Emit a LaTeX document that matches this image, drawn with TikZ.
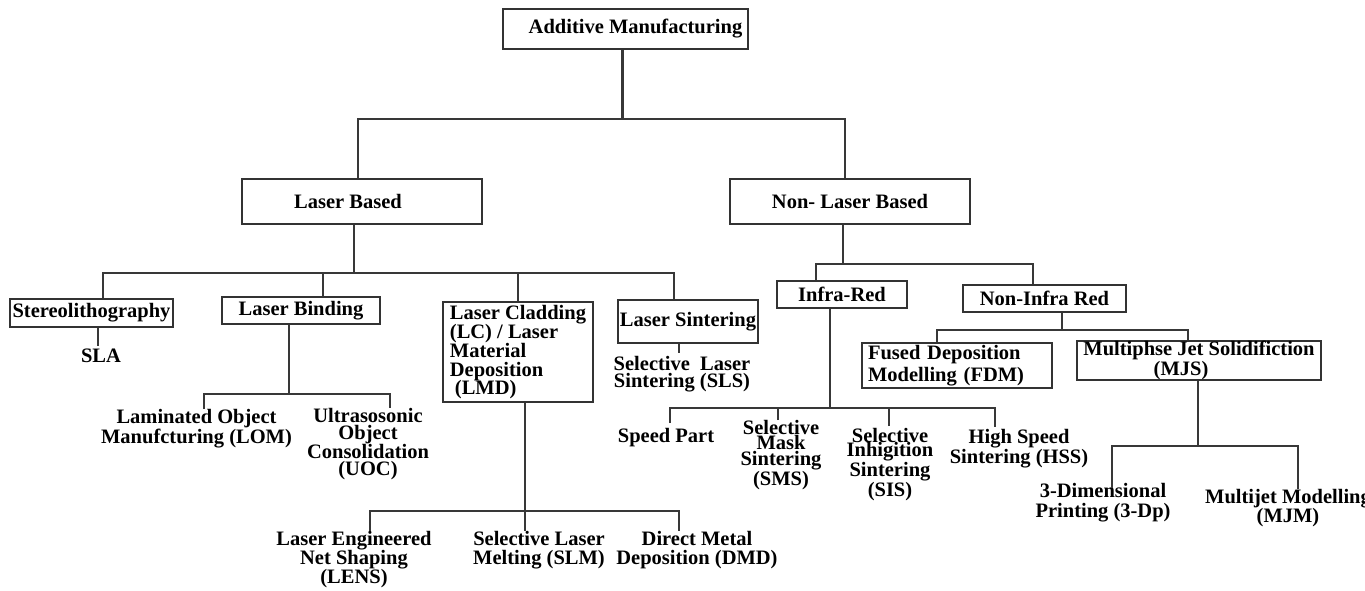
\documentclass[tikz,border=0pt]{standalone}
\usepackage{fontspec}
\setmainfont{Liberation Serif}
\begin{document}
\begin{tikzpicture}[x=1pt,y=-1pt,
  txt/.style={font=\bfseries\fontsize{20.5}{19}\selectfont, text=black},
  box/.style={txt, draw=black!80, line width=2.2pt, inner sep=0pt},
  leaf/.style={txt, inner sep=0pt, align=center, anchor=north},
  conn/.style={draw=black!78, line width=2.1pt}]
\useasboundingbox (0,0) rectangle (1365,590);

% ---- boxes ----
\node[box, minimum width=245pt, minimum height=40pt] (root) at (625.5,29) {\hspace*{20pt}Additive Manufacturing};
\node[box, minimum width=240pt, minimum height=45pt] (lb) at (362,201.5) {Laser Based\hspace*{28pt}};
\node[box, minimum width=240pt, minimum height=45pt] (nlb) at (850,201.5) {Non- Laser Based};

\node[box, minimum width=163pt, minimum height=28pt] (stereo) at (91.5,313) {Stereolithography};
\node[box, minimum width=158pt, minimum height=27pt] (lbind) at (301,310.5) {Laser Binding};
\node[box, minimum width=150pt, minimum height=100pt, align=left,
      font=\bfseries\fontsize{20.5}{18.7}\selectfont] (lc) at (518,352)
      {Laser Cladding\\(LC) / Laser\\Material\\Deposition\\\hspace*{5pt}(LMD)};
\node[box, minimum width=140pt, minimum height=43pt] (lsint) at (688,321.5) {Laser Sintering};

\node[box, minimum width=130pt, minimum height=27pt] (ir) at (842,294.5) {Infra-Red};
\node[box, minimum width=163pt, minimum height=27pt] (nir) at (1044.5,298.5) {Non-Infra Red};
\node[box, text width=178pt, inner xsep=6pt, minimum height=45pt, align=left,
      font=\bfseries\fontsize{20.5}{22}\selectfont] (fdm) at (957,365.5)
      {Fused Deposition\\Modelling (FDM)};
\node[box, minimum width=244pt, minimum height=35pt, align=center,
      font=\bfseries\fontsize{20.5}{13}\selectfont] (mjs) at (1199,360.5)
      {Multiphse Jet Solidifiction\\(MJS)\hspace*{36pt}};

% ---- leaves ----
\node[leaf] (sla) at (101,349) {SLA};
\node[leaf, font=\bfseries\fontsize{20.5}{20}\selectfont] (lom) at (196.5,409) {Laminated Object\\Manufcturing (LOM)};
\node[leaf, font=\bfseries\fontsize{20.5}{16.7}\selectfont] (uoc) at (368,408) {Ultrasosonic\\Object\\Consolidation\\(UOC)};
\node[leaf] (lens) at (354,531) {Laser Engineered\\Net Shaping\\(LENS)};
\node[leaf] (slm) at (539,531) {Selective Laser\\Melting (SLM)};
\node[leaf] (dmd) at (697,531) {Direct Metal\\Deposition (DMD)};
\node[leaf, font=\bfseries\fontsize{20.5}{17}\selectfont] (sls) at (682,356) {Selective\ \ Laser\\Sintering (SLS)};

\node[leaf] (speed) at (666,428) {Speed Part};
\node[leaf, font=\bfseries\fontsize{20.5}{15.5}\selectfont] (sms) at (781,420) {Selective\\Mask\\Sintering\\(SMS)};
\node[leaf, font=\bfseries\fontsize{20.5}{14.5}\selectfont] (sis) at (890,428) {Selective\\Inhigition\\Sintering\\(SIS)};
\node[leaf, font=\bfseries\fontsize{20.5}{20}\selectfont] (hss) at (1019,429) {High Speed\\Sintering (HSS)};
\node[leaf, font=\bfseries\fontsize{20.5}{20}\selectfont] (tdp) at (1103,483) {3-Dimensional\\Printing (3-Dp)};
\node[leaf] (mjm) at (1288,489) {Multijet Modelling\\(MJM)};

% ---- connectors ----
\draw[conn] ([xshift=-3pt]root.south) -- ++(0,68.5) coordinate (j1);
\draw[conn] ([xshift=-4pt]lb.north) |- (j1) -| ([xshift=-5pt]nlb.north);

\draw[conn] ([xshift=-8pt]lb.south) -- ++(0,48) coordinate (j2);
\draw[conn] ([xshift=11.5pt]stereo.north) |- (j2) -| ([xshift=-14pt]lsint.north);
\draw[conn] ([xshift=22pt]lbind.north) -- ([xshift=22pt]lbind.north |- j2);
\draw[conn] (lc.north) -- (lc.north |- j2);

\draw[conn] ([xshift=6.5pt]stereo.south) -- ([xshift=6.5pt,yshift=3pt]stereo.south |- sla.north);

\draw[conn] ([xshift=-12pt]lbind.south) -- ++(0,69) coordinate (j3);
\draw[conn] ([xshift=7.5pt]lom.north) |- (j3) -| ([xshift=22pt]uoc.north);

\draw[conn] ([xshift=7pt]lc.south) -- ++(0,108) coordinate (j4);
\draw[conn] ([xshift=16pt]lens.north) |- (j4) -| ([xshift=-18pt]dmd.north);
\draw[conn] ([xshift=-14pt]slm.north) -- ([xshift=-14pt]slm.north |- j4);

\draw[conn] ([xshift=-9pt]lsint.south) -- ([xshift=-9pt,yshift=3pt]lsint.south |- sls.north);

\draw[conn] ([xshift=-7pt]nlb.south) -- ++(0,39) coordinate (j5);
\draw[conn] ([xshift=-26pt]ir.north) |- (j5) -| ([xshift=-11.5pt]nir.north);

\draw[conn] ([xshift=-12pt]ir.south) -- ++(0,99) coordinate (j6);
\draw[conn] ([xshift=4pt,yshift=5pt]speed.north) |- (j6) -| ([xshift=-24pt,yshift=2pt]hss.north);
\draw[conn] ([xshift=-3pt]sms.north) -- ([xshift=-3pt]sms.north |- j6);
\draw[conn] ([xshift=-1pt,yshift=2pt]sis.north) -- ([xshift=-1pt]sis.north |- j6);

\draw[conn] ([xshift=17.5pt]nir.south) -- ++(0,17) coordinate (j7);
\draw[conn] ([xshift=-20pt]fdm.north) |- (j7) -| ([xshift=-11pt]mjs.north);

\draw[conn] ([xshift=-1pt]mjs.south) -- ++(0,65) coordinate (j8);
\draw[conn] ([xshift=9pt,yshift=-5pt]tdp.north) |- (j8) -| ([xshift=10pt]mjm.north);
\end{tikzpicture}
\end{document}
